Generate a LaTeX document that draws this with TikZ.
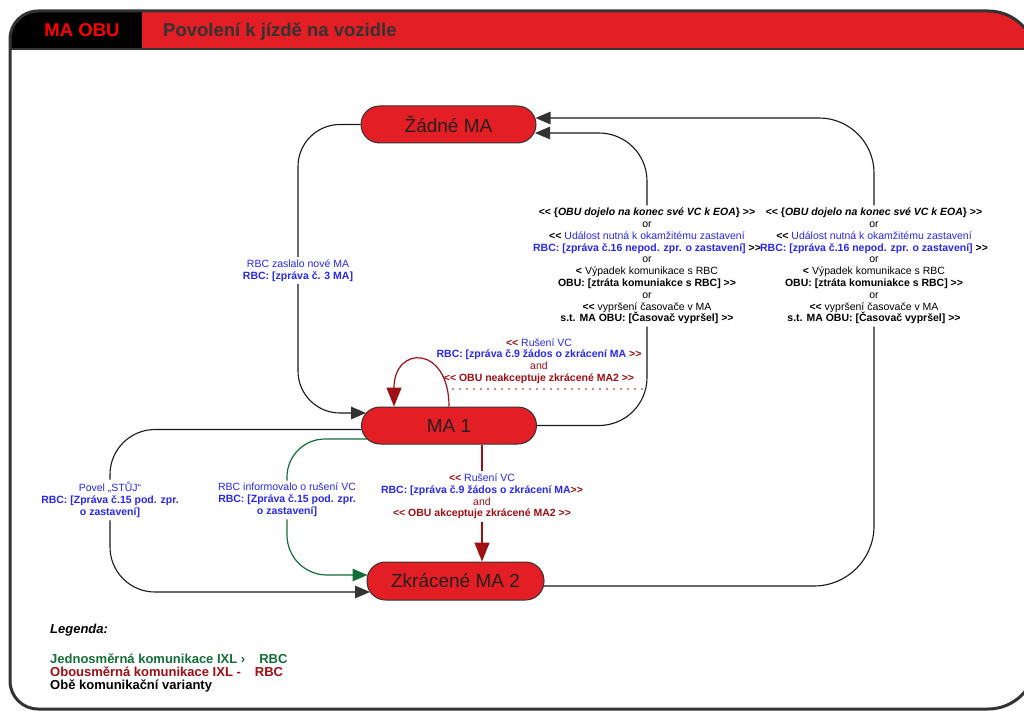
\documentclass[tikz,border=0pt]{standalone}
\usepackage{fontspec}
\setmainfont{Liberation Sans}[Ligatures=TeXOff]
\usetikzlibrary{arrows.meta,calc}

\definecolor{nodered}{RGB}{227,30,36}
\definecolor{framegray}{RGB}{51,51,51}
\definecolor{statetext}{RGB}{40,32,32}
\definecolor{lblue}{RGB}{40,40,245}
\definecolor{dred}{RGB}{160,15,20}
\definecolor{dgreen}{RGB}{20,110,55}

\newcommand\txb[1]{\textcolor{lblue}{#1}}
\newcommand\txr[1]{\textcolor{dred}{#1}}

\begin{document}
\begin{tikzpicture}[x=1pt,y=-1pt,
  state/.style={draw=framegray, line width=1pt, fill=nodered, rounded corners=18.5pt,
    minimum width=175pt, minimum height=37pt, inner sep=0pt, text=statetext,
    font=\fontsize{19}{22}\selectfont},
  wire/.style={draw=black!90, line width=1.1pt},
  redwire/.style={draw=dred, line width=1.2pt},
  greenwire/.style={draw=dgreen, line width=1.2pt},
  tipk/.style={-{Triangle[length=15pt,width=12.5pt,color=framegray]}},
  tipr/.style={-{Triangle[length=19pt,width=15pt]}},
  tipg/.style={-{Triangle[length=15pt,width=12.5pt]}},
  lab/.style={align=center, font=\fontsize{10.5}{11.8}\selectfont, inner sep=2.5pt},
  legend/.style={anchor=base west, inner sep=0pt, font=\fontsize{13}{13}\selectfont\bfseries},
  dotline/.style={draw=dred, line width=1.7pt, line cap=round, dash pattern=on 0pt off 7pt}
]
\useasboundingbox (0,0) rectangle (1024,711);
\clip (0,0) rectangle (1024,711);

% sheet frame with header band
\fill[white] (0,0) rectangle (1024,711);
\begin{scope}
  \clip (10,360) [rounded corners=28pt] -- (10,11) [rounded corners=48pt] -- (1036,11)
        -- (1036,709) [rounded corners=28pt] -- (10,709) -- cycle;
  \fill[black] (10,11) rectangle (142,49);
  \fill[nodered] (142,11) rectangle (1036,49);
\end{scope}
\draw[framegray, line width=3pt] (10,360) [rounded corners=28pt] -- (10,11) [rounded corners=48pt] -- (1036,11)
        -- (1036,709) [rounded corners=28pt] -- (10,709) -- cycle;
\draw[framegray, line width=2.5pt] (10,49) -- (1036,49);
\node[anchor=base, text={rgb,255:red,255;green,0;blue,0}, font=\fontsize{18.5}{20}\selectfont\bfseries] (hdr) at (82,36.5) {MA OBU};
\node[anchor=base west, text=framegray, font=\fontsize{18.5}{20}\selectfont\bfseries, inner sep=0pt] (title) at (163,36.5) {Povolení k jízdě na vozidle};

% states
\node[state] (zadne) at (448.5,124.5) {Žádné MA};
\node[state] (ma1) at (449,425.5) {MA 1};
\node[state, minimum width=177pt, minimum height=38pt] (ma2) at (455.5,581) {Zkrácené MA 2};

% transition labels
\node[lab] (lzad) at (298,270.5) {\txb{RBC zaslalo nové MA}\\\txb{\textbf{RBC: [zpráva č. 3 MA]}}};

\node[lab] (lab1) at (647,266) {%
  \textbf{<< \{\textit{OBU dojelo na konec své VC k EOA}\} >>}\\
  or\\
  \textbf{<<} \txb{Událost nutná k okamžitému zastavení}\\
  \txb{\textbf{RBC: [zpráva č.16 nepod. zpr. o zastavení]}} \textbf{>>}\\
  or\\
  \textbf{<} Výpadek komunikace s RBC\\
  \textbf{OBU: [ztráta komuniakce s RBC] >>}\\
  or\\
  \textbf{<<} vypršení časovače v MA\\
  \textbf{s.t. MA OBU: [Časovač vypršel] >>}};

\node[lab] (lab2) at (874,266) {%
  \textbf{<< \{\textit{OBU dojelo na konec své VC k EOA}\} >>}\\
  or\\
  \textbf{<<} \txb{Událost nutná k okamžitému zastavení}\\
  \txb{\textbf{RBC: [zpráva č.16 nepod. zpr. o zastavení]}} \textbf{>>}\\
  or\\
  \textbf{<} Výpadek komunikace s RBC\\
  \textbf{OBU: [ztráta komuniakce s RBC] >>}\\
  or\\
  \textbf{<<} vypršení časovače v MA\\
  \textbf{s.t. MA OBU: [Časovač vypršel] >>}};

\node[lab] (lloop) at (539,361) {%
  \txr{\textbf{<<}} \txb{Rušení VC}\\
  \txb{\textbf{RBC: [zpráva č.9 žádos o zkrácení MA}} \txr{\textbf{>>}}\\
  \txr{and}\\
  \txr{\textbf{<< OBU neakceptuje zkrácené MA2 >>}}};

\node[lab] (lred) at (482,496.5) {%
  \txr{\textbf{<<}} \txb{Rušení VC}\\
  \txb{\textbf{RBC: [zpráva č.9 žádos o zkrácení MA}}\txr{\textbf{>>}}\\
  \txr{and}\\
  \txr{\textbf{<< OBU akceptuje zkrácené MA2 >>}}};

\node[lab] (lleft) at (110,500) {%
  \txb{Povel „STŮJ“}\\
  \txb{\textbf{RBC: [Zpráva č.15 pod. zpr.}}\\
  \txb{\textbf{o zastavení]}}};

\node[lab] (lgreen) at (287,500) {%
  \txb{RBC informovalo o rušení VC}\\
  \txb{\textbf{RBC: [Zpráva č.15 pod. zpr.}}\\
  \txb{\textbf{o zastavení]}}};

% connector end points on the state outlines
\coordinate (zin1) at ($(zadne.east)+(-1.5,8.5)$);
\coordinate (zin2) at ($(zadne.east)+(-1,-6.5)$);
\coordinate (m1in) at ($(ma1.west)+(5,-12.5)$);
\coordinate (m1outk) at ($(ma1.west)+(0.5,4)$);
\coordinate (m1outg) at ($(ma1.west)+(6,13.5)$);
\coordinate (m2ink) at ($(ma2.west)+(3.5,11)$);
\coordinate (m2ing) at ($(ma2.west)+(1,-6)$);
\coordinate (m2out) at ($(ma2.east)+(-0.5,5)$);
\coordinate (rx) at (482,0);
\coordinate (dotL) at (453,389);

% Žádné MA -> MA 1
\draw[wire, rounded corners=42pt] (zadne.west) -- (zadne.west -| lzad.north) -- (lzad.north);
\draw[wire, tipk, rounded corners=42pt] (lzad.south) -- (lzad.south |- m1in) -- (m1in);

% MA 1 -> Žádné MA
\draw[wire, rounded corners=48pt] (ma1.east) -- (ma1.east -| lab1.south) -- (lab1.south);
\draw[wire, tipk, rounded corners=48pt] (lab1.north) -- (lab1.north |- zin1) -- (zin1);

% Zkrácené MA 2 -> Žádné MA
\draw[wire, rounded corners=60pt] (m2out) -- (m2out -| lab2.south) -- (lab2.south);
\draw[wire, tipk, rounded corners=55pt] (lab2.north) -- (lab2.north |- zin2) -- (zin2);

% MA 1 self loop
\draw[redwire, tipr] (ma1.north) .. controls (449,345) and (394,345) .. ($(ma1.north)+(-55,0)$);
\draw[dotline] (dotL) -- (dotL -| lab1.south);

% MA 1 -> Zkrácené MA 2
\draw[redwire] (ma1.south -| rx) -- (lred.north);
\draw[redwire, tipr] (lred.south) -- (ma2.north -| rx);

\draw[wire, rounded corners=45pt] (m1outk) -- (m1outk -| lleft.north) -- (lleft.north);
\draw[wire, tipk, rounded corners=45pt] (lleft.south) -- (lleft.south |- m2ink) -- (m2ink);

\draw[greenwire, rounded corners=38pt] (m1outg) -- (m1outg -| lgreen.north) -- (lgreen.north);
\draw[greenwire, tipg, rounded corners=40pt] (lgreen.south) -- (lgreen.south |- m2ing) -- (m2ing);

% legend
\node[legend, font=\fontsize{13}{13}\selectfont\bfseries\itshape] (leg0) at (50,633.5) {Legenda:};
\node[legend, text=dgreen] (leg1) at (50,663.5) {Jednosměrná komunikace IXL ›\hspace{14pt}RBC};
\node[legend, text=dred] (leg2) at (50,676.5) {Obousměrná komunikace IXL -\hspace{14pt}RBC};
\node[legend, text=black] (leg3) at (50,689.5) {Obě komunikační varianty};
\end{tikzpicture}
\end{document}
